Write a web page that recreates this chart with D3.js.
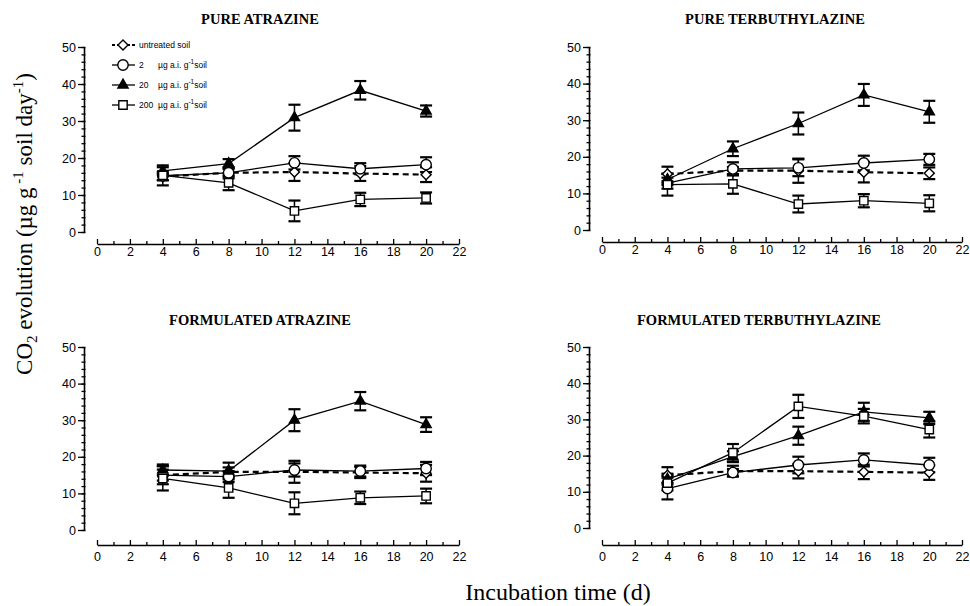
<!DOCTYPE html>
<html lang="en">
<head>
<meta charset="UTF-8">
<title>CO2 evolution</title>
<script src="https://d3js.org/d3.v7.min.js"></script>
<style>
  body { margin: 0; background: #fff; }
  svg { display: block; }
  .axis text { font-family: 'Liberation Sans', Arial, sans-serif; font-size: 12.5px; fill: #000; }
  .axis .domain { stroke: #000; stroke-width: 1.6px; }
  .axis .tick line { stroke: #000; stroke-width: 1.3px; }
  .title { font-family: 'Liberation Serif', 'Times New Roman', serif; font-weight: bold; font-size: 14.5px; }
  .big { font-family: 'Liberation Serif', 'Times New Roman', serif; font-size: 24px; }
  .legend text { font-family: 'Liberation Sans', Arial, sans-serif; font-size: 8.5px; }
</style>
</head>
<body>
<script>
// --- data ---
const days = [4, 8, 12, 16, 20];
const treatments = ["untreated soil", "2", "20", "200"];
const panelTitles = ["PURE ATRAZINE", "PURE TERBUTHYLAZINE", "FORMULATED ATRAZINE", "FORMULATED TERBUTHYLAZINE"];
const yTicks = [0, 10, 20, 30, 40, 50];
const xTicks = [0, 2, 4, 6, 8, 10, 12, 14, 16, 18, 20, 22];

// rows: untreated, 2, 20, 200 ug a.i./g soil
const pureAtrazine = [
  [15.0, 16.0, 16.2, 15.8, 15.5],
  [15.2, 16.0, 18.7, 17.1, 18.2],
  [16.5, 18.5, 30.9, 38.3, 32.7],
  [15.3, 13.3, 5.7, 8.8, 9.2]
];
const pureAtrazineErr = [
  [1.0, 1.0, 2.4, 2.0, 2.0],
  [1.2, 1.5, 1.8, 1.5, 2.0],
  [1.0, 1.2, 3.5, 2.5, 1.5],
  [2.7, 2.0, 2.8, 1.8, 1.5]
];
const pureTerbuthylazine = [
  [15.3, 16.2, 16.2, 15.8, 15.5],
  [12.8, 16.7, 17.0, 18.3, 19.3],
  [13.8, 22.2, 29.1, 36.9, 32.3],
  [12.4, 12.6, 7.1, 8.0, 7.3]
];
const pureTerbuthylazineErr = [
  [2.0, 1.0, 3.3, 2.8, 1.6],
  [1.5, 1.8, 2.3, 2.0, 1.5],
  [1.5, 2.0, 3.0, 3.0, 3.0],
  [3.0, 2.7, 2.3, 1.8, 2.2]
];
const formAtrazine = [
  [15.0, 15.9, 15.9, 15.7, 15.5],
  [15.0, 14.6, 16.4, 16.1, 16.8],
  [16.4, 16.1, 30.0, 35.2, 28.8],
  [14.1, 11.5, 7.3, 8.8, 9.3]
];
const formAtrazineErr = [
  [1.5, 1.2, 3.0, 1.5, 2.3],
  [2.5, 1.5, 1.8, 1.5, 1.8],
  [1.5, 2.3, 3.0, 2.5, 2.0],
  [3.3, 2.7, 3.0, 1.7, 2.0]
];
const formTerbuthylazine = [
  [14.6, 15.7, 15.7, 15.5, 15.3],
  [10.9, 15.3, 17.4, 18.8, 17.4],
  [13.5, 19.7, 25.5, 32.1, 30.4],
  [12.4, 20.8, 33.6, 30.9, 27.2]
];
const formTerbuthylazineErr = [
  [2.2, 1.5, 2.0, 2.0, 2.0],
  [3.0, 1.0, 2.3, 1.8, 2.0],
  [1.5, 1.5, 2.5, 2.5, 1.7],
  [2.0, 2.4, 3.2, 2.0, 2.2]
];

const panelMeans = [pureAtrazine, pureTerbuthylazine, formAtrazine, formTerbuthylazine];
const panelErrs = [pureAtrazineErr, pureTerbuthylazineErr, formAtrazineErr, formTerbuthylazineErr];

// --- layout ---
const W = 970, H = 606;
const panels = [
  {ax: 84,  x0: 97,  x1: 459, yb: 232, yt: 47,  xa: 244, gap: 3, tx: 260, ty: 24},
  {ax: 589, x0: 602, x1: 962, yb: 230, yt: 47,  xa: 242, gap: 3, tx: 775, ty: 24},
  {ax: 84,  x0: 97,  x1: 459, yb: 530, yt: 347, xa: 545, gap: 7, tx: 260, ty: 325},
  {ax: 589, x0: 602, x1: 962, yb: 528, yt: 347, xa: 545, gap: 7, tx: 759, ty: 325}
];

const svg = d3.select("body").append("svg").attr("width", W).attr("height", H);

function marker(sel, k) {
  if (k === 0) {
    sel.attr("d", d3.symbol(d3.symbolSquare, 50)()).attr("fill", "#fff")
      .attr("transform", d => `${d.t} rotate(45)`);
  } else if (k === 1) {
    sel.attr("d", d3.symbol(d3.symbolCircle, 85)()).attr("fill", "#fff");
  } else if (k === 2) {
    sel.attr("d", d3.symbol(d3.symbolTriangle, 45)()).attr("fill", "#000");
  } else {
    sel.attr("d", d3.symbol(d3.symbolSquare, 70)()).attr("fill", "#fff");
  }
  sel.attr("stroke", "#000").attr("stroke-width", 1.4);
}

panels.forEach((p, i) => {
  const x = d3.scaleLinear().domain([0, 22]).range([p.x0, p.x1]);
  const y = d3.scaleLinear().domain([0, 50]).range([p.yb, p.yt]);

  // y axis: major + minor ticks
  svg.append("g").attr("class", "axis").attr("transform", `translate(${p.ax},0)`)
    .call(d3.axisLeft(y).tickValues(yTicks).tickSizeInner(6).tickSizeOuter(0).tickPadding(2));
  svg.append("g").attr("class", "axis").attr("transform", `translate(${p.ax},0)`)
    .call(d3.axisLeft(y).tickValues(d3.range(0, 51, 2)).tickSize(2.5).tickFormat(""))
    .select(".domain").remove();
  svg.append("g").attr("class", "axis").attr("transform", `translate(${p.ax},0)`)
    .call(d3.axisRight(y).tickValues(d3.range(0, 51, 2)).tickSize(1.5).tickFormat(""))
    .select(".domain").remove();

  // x axis, detached below, ticks pointing up
  svg.append("g").attr("class", "axis").attr("transform", `translate(0,${p.xa})`)
    .call(d3.axisBottom(x).tickValues(xTicks).tickSizeInner(-5).tickSizeOuter(0).tickPadding(p.gap));
  svg.append("g").attr("class", "axis").attr("transform", `translate(0,${p.xa})`)
    .call(d3.axisBottom(x).tickValues(d3.range(1, 22, 2)).tickSize(-3).tickFormat(""))
    .select(".domain").remove();

  svg.append("text").attr("class", "title").attr("x", p.tx).attr("y", p.ty)
    .attr("text-anchor", "middle").text(panelTitles[i]);

  const means = panelMeans[i], errs = panelErrs[i];
  const line = d3.line().x((d, j) => x(days[j])).y(d => y(d));

  // lines
  means.forEach((m, k) => {
    svg.append("path").datum(m).attr("fill", "none").attr("stroke", "#000")
      .attr("stroke-width", k === 0 ? 2.2 : 1.3)
      .attr("stroke-dasharray", k === 0 ? "6,4" : null)
      .attr("d", line);
  });

  // error bars
  means.forEach((m, k) => {
    const pts = m.map((v, j) => ({cx: x(days[j]), v, e: errs[k][j]}));
    const g = svg.append("g").attr("stroke", "#000");
    g.selectAll("line.v").data(pts).join("line").attr("stroke-width", 1.5)
      .attr("x1", d => d.cx).attr("x2", d => d.cx)
      .attr("y1", d => y(d.v - d.e)).attr("y2", d => y(d.v + d.e));
    [-1, 1].forEach(s => {
      g.selectAll(null).data(pts).join("line").attr("stroke-width", 2.2)
        .attr("x1", d => d.cx - 6).attr("x2", d => d.cx + 6)
        .attr("y1", d => y(d.v + s * d.e)).attr("y2", d => y(d.v + s * d.e));
    });
  });

  // markers
  means.forEach((m, k) => {
    const pts = m.map((v, j) => ({t: `translate(${x(days[j])},${y(v)})`}));
    svg.append("g").selectAll("path").data(pts).join("path")
      .attr("transform", d => d.t).call(marker, k);
  });
});

// legend (top-left panel)
const legend = svg.append("g").attr("class", "legend");
const legendRows = [45, 65, 85, 105];
treatments.forEach((t, k) => {
  const ry = legendRows[k];
  legend.append("line").attr("x1", 112).attr("x2", 135).attr("y1", ry).attr("y2", ry)
    .attr("stroke", "#000").attr("stroke-width", k === 0 ? 2 : 1.3)
    .attr("stroke-dasharray", k === 0 ? "3,2" : null);
  legend.append("path").datum({t: `translate(123,${ry})`})
    .attr("transform", d => d.t).call(marker, k);
  legend.append("text").attr("x", 139).attr("y", ry + 3).text(t);
  if (k > 0) {
    const tx = legend.append("text").attr("x", 158).attr("y", ry + 3);
    tx.append("tspan").text("\u00b5g a.i. g");
    tx.append("tspan").attr("dy", -4).attr("font-size", "6.5px").text("-1");
    tx.append("tspan").attr("dy", 4).text("soil");
  }
});

// y label
const yl = svg.append("text").attr("class", "big").attr("text-anchor", "middle")
  .attr("font-size", "23px").attr("transform", "translate(32,224) rotate(-90)");
yl.append("tspan").attr("font-size", "23px").text("CO");
yl.append("tspan").attr("dy", 5).attr("font-size", "15px").text("2");
yl.append("tspan").attr("dy", -5).attr("font-size", "23px").text(" evolution (\u00b5g g");
yl.append("tspan").attr("dy", -9).attr("font-size", "15px").text(" -1");
yl.append("tspan").attr("dy", 9).attr("font-size", "23px").text(" soil day");
yl.append("tspan").attr("dy", -9).attr("font-size", "15px").text("-1");
yl.append("tspan").attr("dy", 9).attr("font-size", "23px").text(")");

// x label
svg.append("text").attr("class", "big").attr("text-anchor", "middle")
  .attr("x", 558).attr("y", 600).text("Incubation time (d)");
</script>
</body>
</html>
